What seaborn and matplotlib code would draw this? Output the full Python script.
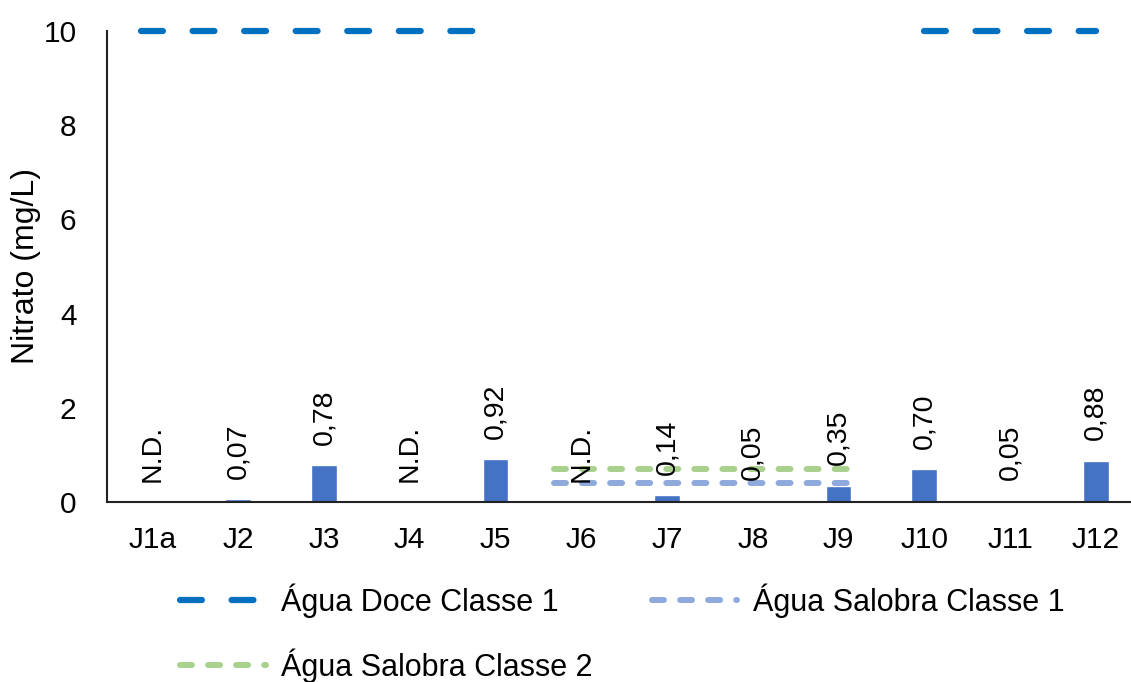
import numpy as np
import pandas as pd
import matplotlib.pyplot as plt
import seaborn as sns

# dados
pontos = ["J1a", "J2", "J3", "J4", "J5", "J6", "J7", "J8", "J9", "J10", "J11", "J12"]
nitrato = [0, 0.07, 0.78, 0, 0.92, 0, 0.14, 0.05, 0.35, 0.70, 0.05, 0.88]
rotulos = ["N.D.", "0,07", "0,78", "N.D.", "0,92", "N.D.", "0,14", "0,05", "0,35", "0,70", "0,05", "0,88"]

nan = np.nan
doce_c1 = [10, 10, 10, 10, 10, nan, nan, nan, nan, 10, 10, 10]
salobra_c1 = [nan, nan, nan, nan, nan, 0.4, 0.4, 0.4, 0.4, nan, nan, nan]
salobra_c2 = [nan, nan, nan, nan, nan, 0.7, 0.7, 0.7, 0.7, nan, nan, nan]

sns.set_style("white")
plt.rcParams["font.family"] = ["Liberation Sans", "DejaVu Sans"]
plt.rcParams["text.color"] = "#000000"
plt.rcParams["axes.labelcolor"] = "#000000"
plt.rcParams["xtick.color"] = "#000000"
plt.rcParams["ytick.color"] = "#000000"

df = pd.DataFrame({"ponto": pontos, "nitrato": nitrato})

fig = plt.figure(figsize=(11.31, 6.82), dpi=100)
ax = fig.add_axes([107 / 1131, 180 / 682, 1024 / 1131, 471 / 682])

sns.barplot(data=df, x="ponto", y="nitrato", color="#4472C4", width=0.30,
            saturation=1, ax=ax, zorder=2)


def linha_limite(valores, ext=(0.0, 0.0), **kw):
    # desenha cada trecho continuo da serie (NaN separa os trechos)
    v = np.asarray(valores, dtype=float)
    idx = np.where(~np.isnan(v))[0]
    trechos = np.split(idx, np.where(np.diff(idx) > 1)[0] + 1)
    h = None
    for k, t in enumerate(trechos):
        e0 = ext[0] if k == 0 else 0.0
        xs = np.r_[t[0] - e0, t, t[-1] + ext[1]]
        ys = np.r_[v[t[0]], v[t], v[t[-1]]]
        h, = ax.plot(xs, ys, clip_on=False, dash_capstyle="round", **kw)
    return h


l1 = linha_limite(doce_c1, ext=(0.13, 0.0), color="#0070C0", lw=4.5, ls=(0, (3.5, 4.75)), zorder=3)
l2 = linha_limite(salobra_c1, ext=(0.32, 0.2), color="#8EA9DB", lw=4.3, ls=(0, (2.0, 2.7)), zorder=3)
l3 = linha_limite(salobra_c2, ext=(0.32, 0.2), color="#A9D18E", lw=4.3, ls=(0, (2.0, 2.7)), zorder=1)

for i, (v, r) in enumerate(zip(nitrato, rotulos)):
    ax.annotate(r, (i, v), xytext=(0, 14.5), textcoords="offset points",
                rotation=90, ha="center", va="bottom", fontsize=20.5)

ax.set_ylim(0, 10)
ax.set_yticks([0, 2, 4, 6, 8, 10])
ax.set_xlim(-0.53, 11.41)
ax.set_xlabel("")
ax.set_ylabel("Nitrato (mg/L)", fontsize=23, labelpad=2)
ax.tick_params(axis="both", labelsize=21.5, length=0)
ax.tick_params(axis="x", pad=17)
ax.tick_params(axis="y", pad=22)
for s in ["top", "right"]:
    ax.spines[s].set_visible(False)
for s in ["left", "bottom"]:
    ax.spines[s].set_color("#222222")
    ax.spines[s].set_linewidth(1.5)

ax.legend([l1, l3, l2], ["Água Doce Classe 1", "Água Salobra Classe 2", "Água Salobra Classe 1"],
          ncol=2, frameon=False, fontsize=22, loc="upper left",
          bbox_to_anchor=(180 / 1131, 1 - 583 / 682), bbox_transform=fig.transFigure,
          borderpad=0, borderaxespad=0, handlelength=2.8, columnspacing=1.95,
          labelspacing=1.0, handletextpad=0.5)

fig.savefig("out.png", dpi=100)
